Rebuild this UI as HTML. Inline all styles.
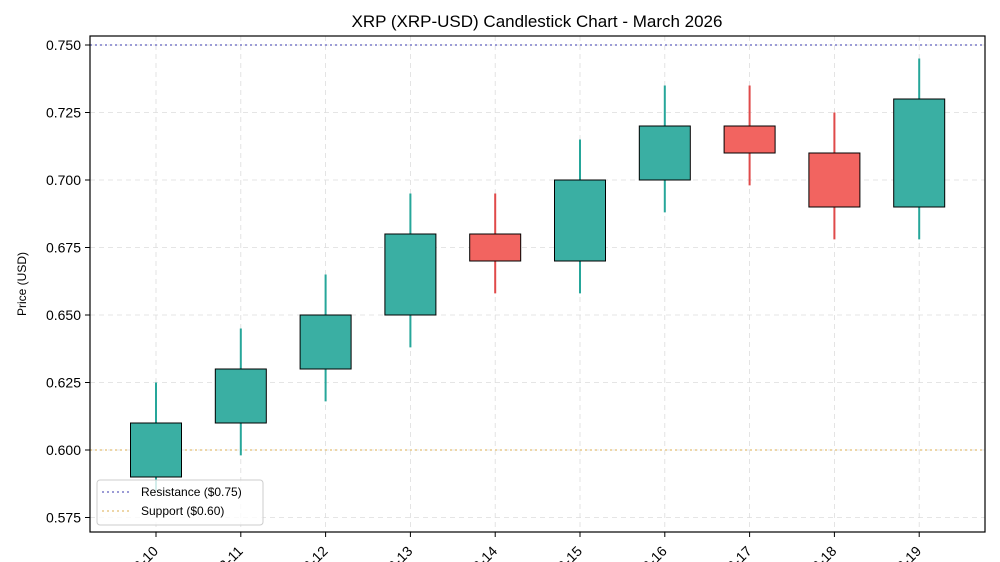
<!DOCTYPE html>
<html><head><meta charset="utf-8"><style>
body{margin:0;background:#fff;}
svg{display:block;font-family:"Liberation Sans",sans-serif;}
</style></head><body>
<svg id="chart" width="1000" height="562">
<text x="537" y="27" font-size="17" text-anchor="middle" fill="#000">XRP (XRP-USD) Candlestick Chart - March 2026</text>
<text x="26" y="284" font-size="12" text-anchor="middle" transform="rotate(-90 26 284)">Price (USD)</text>
<g id="grid"></g><g id="marks"></g><g id="axes"></g>
</svg>
<script>
const dates=["03-10","03-11","03-12","03-13","03-14","03-15","03-16","03-17","03-18","03-19"];
const opens=[0.59,0.61,0.63,0.65,0.68,0.67,0.70,0.72,0.71,0.69];
const closes=[0.61,0.63,0.65,0.68,0.67,0.70,0.72,0.71,0.69,0.73];
const highs=[0.625,0.645,0.665,0.695,0.695,0.715,0.735,0.735,0.725,0.745];
const lows=[0.585,0.598,0.618,0.638,0.658,0.658,0.688,0.698,0.678,0.678];
const yTicks=[0.575,0.600,0.625,0.650,0.675,0.700,0.725,0.750];
const resistance=0.75, support=0.60;
const NS="http://www.w3.org/2000/svg";
const L=90,R=985,T=36,B=532;
const y=v=>45+(0.75-v)*2700;
const x=i=>156+i*84.8;
function mk(tag,attrs,parent){const e=document.createElementNS(NS,tag);for(const k in attrs)e.setAttribute(k,attrs[k]);document.getElementById(parent).appendChild(e);return e;}
yTicks.forEach((t,i)=>{
 const g=mk('line',{x1:L,x2:R,y1:y(t),y2:y(t),stroke:'#ddd','stroke-dasharray':'5,4','stroke-width':0.8},'grid');
 
 
 const tk=mk('line',{x1:L-5,x2:L,y1:y(t),y2:y(t),stroke:'#000'},'axes');
 
 
 const tx=mk('text',{x:L-9,y:y(t)+5,'font-size':14,'text-anchor':'end'},'axes');
 tx.textContent=t.toFixed(3);
 
 
});
dates.forEach((d,i)=>{
 const g=mk('line',{x1:x(i),x2:x(i),y1:T,y2:B,stroke:'#ddd','stroke-dasharray':'5,4','stroke-width':0.8},'grid');
 
 
 const tk=mk('line',{x1:x(i),x2:x(i),y1:B,y2:B+5,stroke:'#000'},'axes');
 
 
 const tx=mk('text',{x:x(i)+3,y:B+20,'font-size':14,'text-anchor':'end',transform:`rotate(-45 ${x(i)+3} ${B+20})`},'axes');
 tx.textContent=d;
 
 
});
const rl=mk('line',{x1:L,x2:R,y1:y(resistance),y2:y(resistance),stroke:'#7b7bc8','stroke-dasharray':'2,3','stroke-width':1.5},'grid');


const sl=mk('line',{x1:L,x2:R,y1:y(support),y2:y(support),stroke:'#e8c98a','stroke-dasharray':'2,3','stroke-width':1.5},'grid');


dates.forEach((d,i)=>{
 const up=closes[i]>=opens[i];
 const w=mk('line',{x1:x(i),x2:x(i),y1:y(highs[i]),y2:y(lows[i]),stroke:up?'#26a69a':'#e04a4a','stroke-width':2},'marks');
 
 
 const top=Math.max(opens[i],closes[i]),bot=Math.min(opens[i],closes[i]);
 const b=mk('rect',{x:x(i)-25.5,y:y(top),width:51,height:y(bot)-y(top),fill:up?'#3aafa3':'#f26460',stroke:'#000','stroke-width':1},'marks');
 
 
});
const frame=mk('rect',{x:L,y:T,width:R-L,height:B-T,fill:'none',stroke:'#000','stroke-width':1.2},'axes');


</script>
<svg style="position:absolute;left:0;top:0" width="1000" height="562">
<g>
<rect x="97" y="480" width="166" height="45" rx="3" fill="#fff" fill-opacity="0.8" stroke="#ccc"/>
<line x1="102" x2="130" y1="492" y2="492" stroke="#7b7bc8" stroke-dasharray="2,3" stroke-width="1.5"/>
<text x="141" y="496" font-size="12" font-family="Liberation Sans,sans-serif">Resistance ($0.75)</text>
<line x1="102" x2="130" y1="511" y2="511" stroke="#e8c98a" stroke-dasharray="2,3" stroke-width="1.5"/>
<text x="141" y="515" font-size="12" font-family="Liberation Sans,sans-serif">Support ($0.60)</text>
</g></svg>
</body></html>
